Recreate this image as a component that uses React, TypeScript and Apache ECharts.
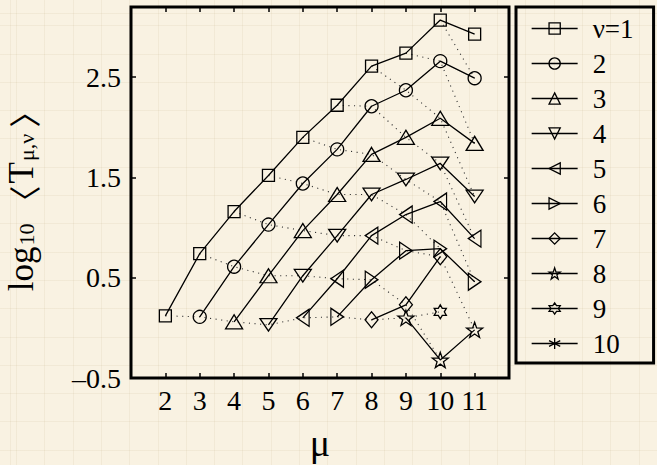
import React, { useEffect, useRef } from "react";
import * as echarts from "echarts";

const MU = [2, 3, 4, 5, 6, 7, 8, 9, 10, 11];
const LEGEND_NAMES = ["ν=1", "2", "3", "4", "5", "6", "7", "8", "9", "10"];
const Y_TICKS = [-0.5, 0.5, 1.5, 2.5];
const Y_TICK_LABELS = ["–0.5", "0.5", "1.5", "2.5"];

const nu1 = [0.12, 0.74, 1.16, 1.52, 1.9, 2.22, 2.61, 2.74, 3.07, 2.93];
const nu2 = [null, 0.11, 0.61, 1.03, 1.44, 1.78, 2.21, 2.37, 2.66, 2.49];
const nu3 = [null, null, 0.06, 0.52, 0.97, 1.33, 1.73, 1.9, 2.09, 1.84];
const nu4 = [null, null, null, 0.03, 0.52, 0.92, 1.33, 1.48, 1.64, 1.31];
const nu5 = [null, null, null, null, 0.1, 0.49, 0.92, 1.13, 1.26, 0.89];
const nu6 = [null, null, null, null, null, 0.11, 0.48, 0.77, 0.79, 0.46];
const nu7 = [null, null, null, null, null, null, 0.08, 0.23, 0.71, null];
const nu8 = [null, null, null, null, null, null, null, 0.1, -0.32, -0.02];
const nu9 = [null, null, null, null, null, null, null, null, 0.16, null];
const nu10 = [null, null, null, null, null, null, null, null, null, null];

const VALUES = [nu1, nu2, nu3, nu4, nu5, nu6, nu7, nu8, nu9, nu10];

const SYMBOLS = [
  "rect",
  "circle",
  "triangle",
  "path://M0,0 L10,0 L5,9 Z",
  "path://M9,0 L9,10 L0,5 Z",
  "path://M0,0 L0,10 L9,5 Z",
  "diamond",
  "path://M5,0 L6.18,3.38 L9.76,3.45 L6.9,5.62 L7.94,9.05 L5,7 L2.06,9.05 L3.1,5.62 L0.24,3.45 L3.82,3.38 Z",
  "path://M5,0 L6.44,2.5 L9.33,2.5 L7.89,5 L9.33,7.5 L6.44,7.5 L5,10 L3.56,7.5 L0.67,7.5 L2.11,5 L0.67,2.5 L3.56,2.5 Z",
  "path://M5,0 L5,10 M0.7,2.5 L9.3,7.5 M0.7,7.5 L9.3,2.5",
];
const SYMBOL_SIZES: any[] = [12, 13, [17, 14], [17, 14], [14, 17], [14, 17], [13, 16], 16, 14, 12];

const FONT = "'Liberation Serif', 'DejaVu Serif', serif";
const BRACKET_FONT = "'Noto Sans CJK SC', 'DejaVu Serif', serif";

export default function App() {
  const ref = useRef<HTMLDivElement>(null);
  useEffect(() => {
    if (!ref.current) return;
    const chart = echarts.init(ref.current, undefined, { renderer: "svg" });

    const solid = VALUES.map((vals, j) => ({
      name: LEGEND_NAMES[j],
      type: "line",
      data: MU.map((m, i) => [m, vals[i]]).filter((p) => p[1] !== null),
      symbol: SYMBOLS[j],
      symbolSize: SYMBOL_SIZES[j],
      symbolKeepAspect: true,
      showSymbol: true,
      lineStyle: { color: "#000", width: 1.3 },
      itemStyle: { color: "rgba(0,0,0,0)", borderColor: "#000", borderWidth: 1.3 },
      emphasis: { disabled: true },
      silent: true,
      z: 3,
    }));

    const diagonals: any[] = [];
    for (let k = 1; k <= 10; k++) {
      const pts: any[] = [];
      for (let v = 1; v <= 10; v++) {
        const m = v + k;
        if (m > 11) break;
        const val = VALUES[v - 1][m - 2];
        pts.push([m, val === null ? "-" : val]);
      }
      diagonals.push({
        name: "diag" + k,
        type: "line",
        data: pts,
        showSymbol: false,
        symbol: "none",
        lineStyle: { color: "#333", width: 1.1, type: [1.1, 4.5] },
        emphasis: { disabled: true },
        silent: true,
        z: 2,
      });
    }

    const tickStyle = { inside: true, length: 5, lineStyle: { color: "#000", width: 1.5 } };

    chart.setOption({
      animation: false,
      backgroundColor: "transparent",
      grid: {
        left: 131,
        right: 148,
        top: 7,
        bottom: 87,
        containLabel: false,
        outerBoundsMode: "none",
        show: true,
        borderColor: "#000",
        borderWidth: 3,
        backgroundColor: "transparent",
      },
      legend: {
        data: LEGEND_NAMES,
        orient: "vertical",
        left: 516,
        top: 7,
        itemWidth: 46,
        itemHeight: 14,
        itemGap: 8,
        padding: [8, 20, 6, 15],
        borderColor: "#000",
        borderWidth: 3,
        backgroundColor: "transparent",
        selectedMode: false,
        lineStyle: { color: "#000", width: 1.3 },
        itemStyle: { color: "rgba(0,0,0,0)", borderColor: "#000", borderWidth: 1.3 },
        textStyle: {
          fontFamily: FONT,
          fontSize: 27,
          lineHeight: 27,
          color: "#000",
          padding: [0, 0, 0, 10],
        },
      },
      xAxis: [
        {
          type: "value",
          min: 1,
          max: 12,
          interval: 1,
          position: "bottom",
          axisLine: { show: false, onZero: false },
          axisTick: tickStyle,
          splitLine: { show: false },
          axisLabel: {
            formatter: (v: number) => (MU.indexOf(v) >= 0 ? String(v) : ""),
            fontFamily: FONT,
            fontSize: 28,
            color: "#000",
            margin: 8,
          },
          name: "μ",
          nameLocation: "middle",
          nameGap: 46,
          nameTextStyle: { fontFamily: FONT, fontSize: 38, color: "#000" },
        },
        {
          type: "value",
          min: 1,
          max: 12,
          interval: 1,
          position: "top",
          axisLine: { show: false, onZero: false },
          axisTick: tickStyle,
          splitLine: { show: false },
          axisLabel: { show: false },
        },
      ],
      yAxis: [
        {
          type: "value",
          min: -0.5,
          max: 3.2,
          interval: 1,
          position: "left",
          axisLine: { show: false, onZero: false },
          axisTick: tickStyle,
          splitLine: { show: false },
          axisLabel: {
            showMaxLabel: false,
            formatter: (v: number) => {
              const i = Y_TICKS.findIndex((t) => Math.abs(t - v) < 1e-6);
              return i >= 0 ? Y_TICK_LABELS[i] : "";
            },
            fontFamily: FONT,
            fontSize: 28,
            color: "#000",
            margin: 10,
          },
          name: "{m|log}{s|10}{b|〈}{m|T}{s|μ,ν}{b|〉}",
          nameLocation: "middle",
          nameRotate: 90,
          nameGap: 94,
          nameTextStyle: {
            fontFamily: FONT,
            color: "#000",
            rich: {
              m: { fontFamily: FONT, fontSize: 35, lineHeight: 33, verticalAlign: "top", color: "#000" },
              b: { fontFamily: BRACKET_FONT, fontSize: 32, lineHeight: 33, verticalAlign: "top", color: "#000", padding: [3, 2, 0, 4] },
              s: {
                fontFamily: FONT,
                fontSize: 22,
                lineHeight: 20,
                padding: [25, 2, 0, 1],
                verticalAlign: "bottom",
                color: "#000",
              },
            },
          },
        },
        {
          type: "value",
          min: -0.5,
          max: 3.2,
          interval: 1,
          position: "right",
          axisLine: { show: false, onZero: false },
          axisTick: tickStyle,
          splitLine: { show: false },
          axisLabel: { show: false },
        },
      ],
      series: [...diagonals, ...solid],
    });

    return () => chart.dispose();
  }, []);

  const bg =
    "repeating-linear-gradient(0deg, rgba(190,170,130,0.13) 0px, rgba(190,170,130,0.13) 1px, transparent 1px, transparent 28.3px), " +
    "repeating-linear-gradient(90deg, rgba(190,170,130,0.13) 0px, rgba(190,170,130,0.13) 1px, transparent 1px, transparent 28.3px), " +
    "#f9f2e2";

  return (
    <div
      style={{
        position: "fixed",
        left: 0,
        top: 0,
        width: 657,
        height: 465,
        background: bg,
        backgroundPosition: "16px 14px",
      }}
    >
      <div ref={ref} style={{ width: 657, height: 465 }} />
    </div>
  );
}
